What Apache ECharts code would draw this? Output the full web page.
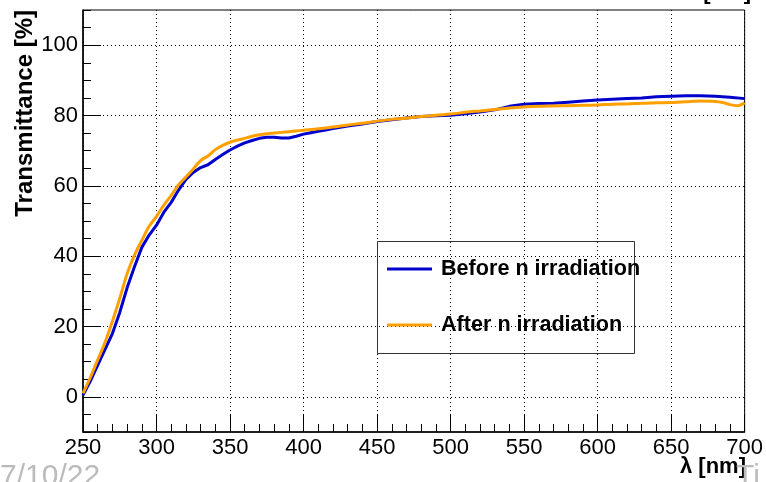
<!DOCTYPE html>
<html>
<head>
<meta charset="utf-8">
<script src="https://cdn.jsdelivr.net/npm/echarts@6/dist/echarts.min.js"></script>
<style>html,body{margin:0;padding:0;background:#fff}#c{width:766px;height:482px}</style>
</head>
<body>
<div id="c"></div>
<script>
// ---- data ----
const beforeWave = [250,255,260,265,270,275,280,285,290,295,300,305,310,315,320,325,330,335,340,345,350,355,360,365,370,375,380,385,390,395,400,405,410,415,420,430,440,450,460,470,480,490,500,510,520,530,540,550,560,570,580,590,600,610,620,630,640,650,660,670,680,690,700];
const beforeT = [0.5,4.5,9,13.5,18,24,31,37,42.5,46,48.8,52.5,55.3,58.8,61.8,63.8,65.2,66,67.5,68.9,70.2,71.3,72.2,72.9,73.5,73.8,73.8,73.6,73.6,74.1,74.7,75.1,75.5,75.9,76.3,77.0,77.6,78.3,78.8,79.3,79.7,79.9,80.1,80.5,81.0,81.6,82.6,83.2,83.4,83.5,83.8,84.1,84.4,84.6,84.8,85.0,85.3,85.5,85.6,85.6,85.5,85.2,84.8];
const afterWave = [250,255,260,265,270,275,280,285,290,295,300,305,310,315,320,325,330,335,340,345,350,355,360,365,370,375,380,385,390,395,400,410,420,430,440,450,460,470,480,490,500,510,520,530,540,550,560,570,580,590,600,610,620,630,640,650,660,670,680,685,690,695,700];
const afterT = [1,5.5,10.5,15.5,21.5,28,35,40.3,44.5,48.5,51.3,54.5,57.3,60.3,62.5,64.8,67.2,68.5,70.3,71.5,72.4,73,73.5,74.1,74.5,74.8,75,75.2,75.4,75.6,75.8,76.2,76.7,77.3,77.8,78.4,78.9,79.2,79.7,80.1,80.4,80.9,81.3,81.7,82.1,82.4,82.6,82.7,82.8,82.9,83.0,83.2,83.3,83.5,83.6,83.7,83.9,84.1,84.0,83.7,83.1,82.8,83.6];
const seriesNames = ['Before n irradiation', 'After n irradiation'];
const yMajor = [0,20,40,60,80,100];
const xTitle = 'λ [nm]';
const yTitle = 'Transmittance [%]';

const pair = (xs, ys) => xs.map((x, i) => [x, ys[i]]);
const FONT = '"Liberation Sans", Arial, Helvetica, sans-serif';
const chart = echarts.init(document.getElementById('c'), null, {renderer: 'canvas'});

chart.setOption({
  animation: false,
  backgroundColor: '#fff',
  grid: {left: 83, right: 21, top: 10, bottom: 50, show: true, borderColor: '#000', borderWidth: 1, backgroundColor: 'transparent'},
  xAxis: {
    type: 'value', min: 250, max: 700, interval: 50,
    axisLine: {show: true, onZero: false, lineStyle: {color: '#000', width: 1.5}},
    axisTick: {show: true, inside: true, length: 18, lineStyle: {color: '#000', width: 1}},
    minorTick: {show: true, splitNumber: 5, length: 8, lineStyle: {color: '#000', width: 1}},
    axisLabel: {color: '#000', fontFamily: FONT, fontSize: 22, margin: 5},
    splitLine: {show: true, lineStyle: {color: '#000', type: [1, 3], width: 1}}
  },
  yAxis: [{
    type: 'value', min: -10, max: 110, interval: 5,
    axisLine: {show: true, onZero: false, lineStyle: {color: '#000', width: 1.5}},
    axisTick: {show: true, inside: true, length: 8, lineStyle: {color: '#000', width: 1}},
    axisLabel: {show: false},
    splitLine: {show: false}
  }, {
    type: 'value', min: -10, max: 110, position: 'left',
    axisLine: {show: false, onZero: false},
    axisTick: {show: true, inside: true, length: 18, customValues: yMajor, lineStyle: {color: '#000', width: 1}},
    axisLabel: {show: true, customValues: yMajor, color: '#000', fontFamily: FONT, fontSize: 22, margin: 5},
    splitLine: {show: true, lineStyle: {color: '#000', type: [1, 3], width: 1}}
  }],
  legend: {
    orient: 'vertical', left: 387, top: 257, itemGap: 32, padding: 0,
    itemWidth: 45, itemHeight: 3, icon: 'rect',
    textStyle: {color: '#000', fontFamily: FONT, fontSize: 21.6, fontWeight: 'bold', lineHeight: 24, padding: [0, 0, 0, 4]},
    data: seriesNames
  },
  series: [{
    name: seriesNames[0], type: 'line', showSymbol: false,
    data: pair(beforeWave, beforeT), color: '#0000cc',
    lineStyle: {color: '#0000cc', width: 3}, z: 3
  }, {
    name: seriesNames[1], type: 'line', smooth: 0.3, showSymbol: false,
    data: pair(afterWave, afterT), color: '#ffa000',
    lineStyle: {color: '#ffa000', width: 3}, z: 4
  }],
  graphic: [
    {type: 'rect', shape: {x: 377.5, y: 241.5, width: 257, height: 112}, style: {fill: 'none', stroke: '#333', lineWidth: 1}, z: 1},
    {type: 'text', x: 746, y: 456, style: {text: xTitle, fontFamily: FONT, fontSize: 22, fontWeight: 'bold', fill: '#000', textAlign: 'right', textVerticalAlign: 'top'}},
    {type: 'text', x: 13, y: 10, rotation: Math.PI / 2, style: {text: yTitle, fontFamily: FONT, fontSize: 24, fontWeight: 'bold', fill: '#000', textAlign: 'right', textVerticalAlign: 'top'}},
    {type: 'text', x: 0, y: 462, style: {text: '7/10/22', fontFamily: FONT, fontSize: 30, fill: '#bbb', textAlign: 'left', textVerticalAlign: 'top'}},
    {type: 'text', x: 736, y: 462, style: {text: 'Ti O', fontFamily: FONT, fontSize: 30, fill: '#bbb', textAlign: 'left', textVerticalAlign: 'top'}},
    {type: 'text', x: 751, y: -18, style: {text: '[nm]', fontFamily: FONT, fontSize: 22, fontWeight: 'bold', fill: '#000', textAlign: 'right', textVerticalAlign: 'top'}}
  ]
});
</script>
</body>
</html>
